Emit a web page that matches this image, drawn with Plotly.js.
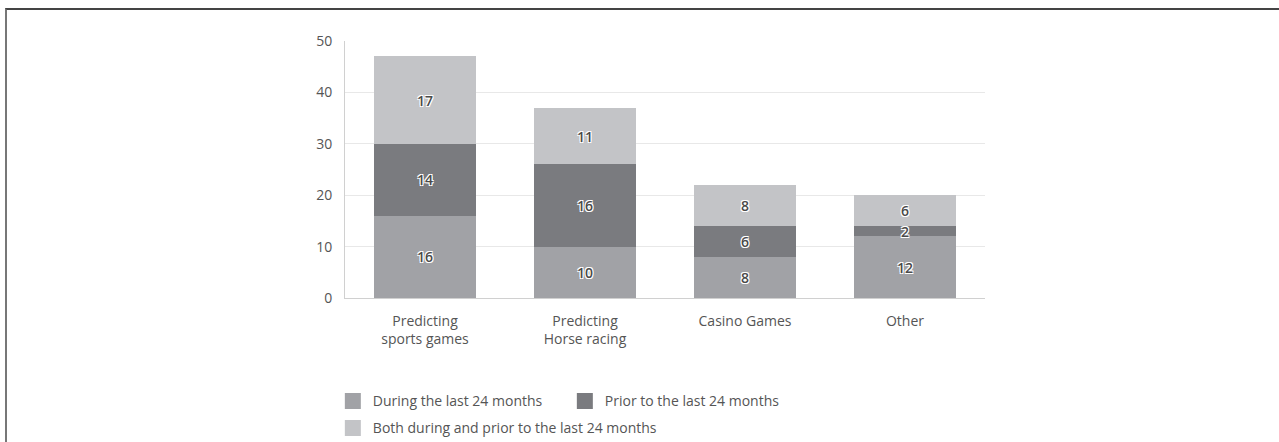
<!DOCTYPE html>
<html>
<head>
<meta charset="utf-8">
<script src="https://cdn.plot.ly/plotly-3.0.1.min.js"></script>
<style>
  html, body { margin: 0; padding: 0; background: #fff; }
  #chart { position: absolute; left: 0; top: 0; width: 1279px; height: 442px; }
  #frame { position: absolute; left: 5px; top: 8px; width: 1274px; height: 434px;
           border-top: 2px solid #444; border-left: 2px solid #777; pointer-events: none; }
</style>
</head>
<body>
<div id="chart"></div>
<div id="frame"></div>
<script>
// categories and series
var categories = ['Predicting<br>sports games', 'Predicting<br>Horse racing', 'Casino Games', 'Other'];
var during = [16, 10, 8, 12];
var prior = [14, 16, 6, 2];
var both = [17, 11, 8, 6];

var names = ['During the last 24 months', 'Prior to the last 24 months', 'Both during and prior to the last 24 months'];
var colors = ['#a1a2a6', '#7a7b7f', '#c3c4c7'];
// which legend box each entry goes in (first two share a row)
var legendOf = ['legend', 'legend', 'legend2'];

var labelFont = {
    family: 'Open Sans, sans-serif',
    size: 14,
    color: '#4a4a4a',
    weight: 600,
    shadow: '1px 1px 0 #fff, -1px -1px 0 #fff, 1px -1px 0 #fff, -1px 1px 0 #fff'
};

function barTrace(vals, i){
    return {
        type: 'bar',
        name: names[i],
        x: categories,
        y: vals,
        text: vals.map(String),
        textposition: 'inside',
        insidetextanchor: 'middle',
        textangle: 0,
        textfont: labelFont,
        marker: {color: colors[i], line: {width: 0}},
        showlegend: false,
        hoverinfo: 'x+y+name'
    };
}

// legend-only entries so the swatches can be bigger than the bar default
function legendTrace(i){
    return {
        type: 'scatter',
        mode: 'markers',
        name: names[i],
        x: [null],
        y: [null],
        legend: legendOf[i],
        marker: {symbol: 'square', size: 16, color: colors[i], line: {width: 0}},
        showlegend: true
    };
}

var data = [
    barTrace(during, 0),
    barTrace(prior, 1),
    barTrace(both, 2),
    legendTrace(0),
    legendTrace(1),
    legendTrace(2)
];

var legendBase = {
    orientation: 'h',
    x: -0.019,
    xanchor: 'left',
    yanchor: 'top',
    traceorder: 'normal',
    font: {size: 14, color: '#555'},
    itemclick: false,
    itemdoubleclick: false
};

var layout = {
    width: 1279,
    height: 442,
    margin: {l: 345, r: 294, t: 41, b: 144, autoexpand: false},
    paper_bgcolor: '#fff',
    plot_bgcolor: '#fff',
    barmode: 'stack',
    bargap: 0.36,
    uniformtext: {mode: 'show', minsize: 14},
    font: {family: 'Open Sans, sans-serif', size: 14, color: '#555'},
    xaxis: {
        type: 'category',
        showgrid: false,
        showline: true,
        linecolor: '#d0d0d0',
        linewidth: 1,
        ticks: '',
        tickfont: {size: 14, color: '#555'},
        ticklabelstandoff: 10
    },
    yaxis: {
        range: [0, 50],
        dtick: 10,
        showgrid: true,
        gridcolor: '#e8e8e8',
        zeroline: false,
        showline: true,
        linecolor: '#d0d0d0',
        linewidth: 1,
        ticks: '',
        tickfont: {size: 14, color: '#555'},
        ticklabelstandoff: 9
    },
    showlegend: true,
    legend: Object.assign({}, legendBase, {y: -0.34, entrywidth: 187}),
    legend2: Object.assign({}, legendBase, {y: -0.445})
};

Plotly.newPlot('chart', data, layout, {displayModeBar: false, staticPlot: true});
</script>
</body>
</html>
